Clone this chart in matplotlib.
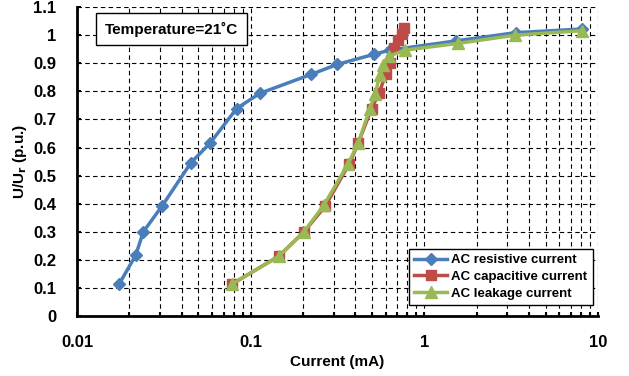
import matplotlib.pyplot as plt
from matplotlib.ticker import FixedLocator, NullFormatter

plt.rcParams['font.family'] = ['Liberation Sans', 'DejaVu Sans']
plt.rcParams['font.weight'] = 'bold'

# resistive current
res_x = [0.0175, 0.0218, 0.0241, 0.031, 0.0453, 0.0583, 0.083, 0.113, 0.224, 0.315, 0.513, 0.634, 1.53, 3.35, 8.04]
res_y = [0.114, 0.217, 0.30, 0.393, 0.546, 0.615, 0.739, 0.793, 0.861, 0.896, 0.932, 0.947, 0.98, 1.009, 1.022]

# capacitive current
cap_x = [0.0783, 0.146, 0.203, 0.268, 0.37, 0.416, 0.497, 0.548, 0.60, 0.634, 0.671, 0.708, 0.74, 0.76]
cap_y = [0.114, 0.214, 0.30, 0.39, 0.543, 0.615, 0.739, 0.793, 0.861, 0.90, 0.953, 0.982, 1.005, 1.025]

# leakage current
leak_x = [0.0783, 0.146, 0.203, 0.264, 0.365, 0.416, 0.486, 0.52, 0.555, 0.575, 0.628, 0.773, 1.57, 3.32, 8.04]
leak_y = [0.114, 0.214, 0.30, 0.395, 0.543, 0.615, 0.739, 0.789, 0.858, 0.894, 0.926, 0.947, 0.971, 1.0, 1.016]

fig = plt.figure(figsize=(6.29, 3.76), dpi=100)
ax = fig.add_axes([0.1224, 0.1596, 0.8283, 0.8214])

ax.plot(res_x, res_y, '-D', color='#4a7ebb', lw=2.5, ms=6, label='AC resistive current')
ax.plot(cap_x, cap_y, '-s', color='#be4b48', lw=2.5, ms=7, label='AC capacitive current')
ax.plot(leak_x, leak_y, '-^', color='#98b954', lw=2.5, ms=8, label='AC leakage current')

ax.set_xscale('log')
ax.set_xlim(0.01, 10)
ax.set_ylim(0, 1.1)
ax.set_yticks([i / 10 for i in range(12)])
ax.set_yticklabels(['0', '0.1', '0.2', '0.3', '0.4', '0.5', '0.6', '0.7', '0.8', '0.9', '1', '1.1'])
ax.set_xticks([0.01, 0.1, 1, 10])
ax.set_xticklabels(['0.01', '0.1', '1', '10'])
minors = [m * d for d in [0.01, 0.1, 1] for m in range(2, 10)]
ax.xaxis.set_minor_locator(FixedLocator(minors))
ax.xaxis.set_minor_formatter(NullFormatter())

ax.grid(True, which='both', color='black', linestyle=(0, (4, 3)), lw=0.8)
ax.tick_params(axis='both', which='both', direction='in', labelsize=12, length=3, width=1.5)
ax.tick_params(axis='x', pad=14)
ax.tick_params(axis='y', pad=15)

ax.spines['top'].set_visible(False)
ax.spines['right'].set_visible(False)
ax.spines['left'].set_linewidth(2)
ax.spines['bottom'].set_linewidth(2)

ax.set_xlabel('Current (mA)', fontsize=11, fontweight='bold', labelpad=3)
ax.set_ylabel('U/U$_\\mathbf{r}$ (p.u.)', fontsize=11, fontweight='bold', labelpad=3)

ax.text(0.035, 1.022, 'Temperature=21˚C', fontsize=11, fontweight='bold',
        ha='center', va='center',
        bbox=dict(boxstyle='square,pad=0.55', fc='white', ec='black', lw=1))

leg = ax.legend(loc='lower right', bbox_to_anchor=(0.99, 0.035), fontsize=9.5,
                fancybox=False, edgecolor='black', framealpha=1, borderaxespad=0,
                handlelength=2.5, borderpad=0.4, labelspacing=0.35, handletextpad=0.3)
leg.get_frame().set_linewidth(1)

fig.savefig('out.png', dpi=100)
